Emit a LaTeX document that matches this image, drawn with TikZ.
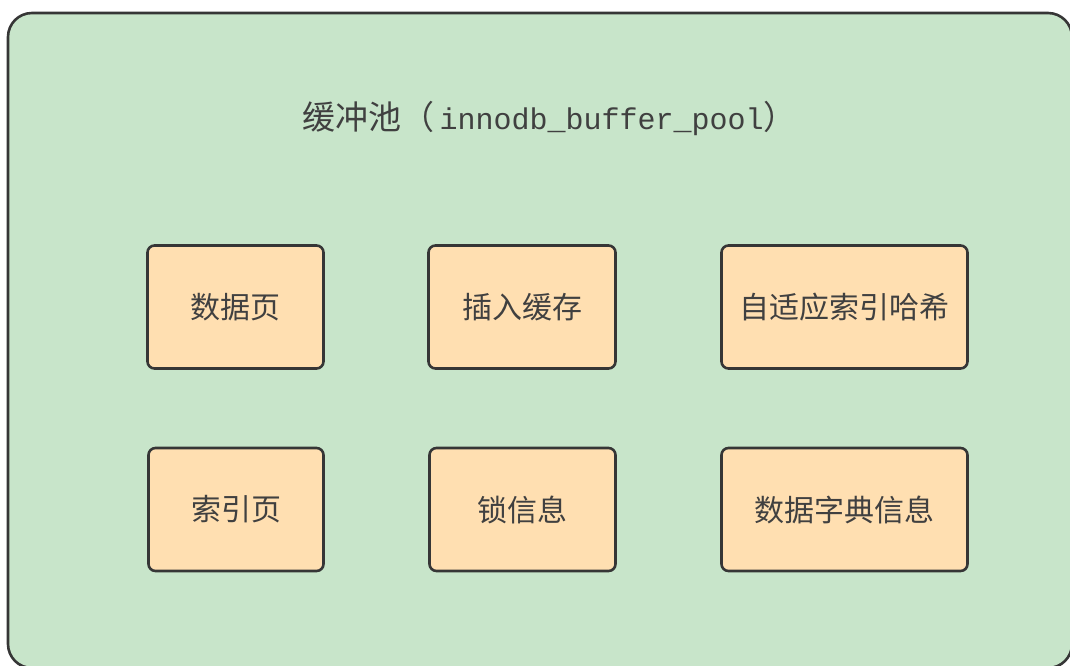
\documentclass[tikz,border=0pt]{standalone}
\usepackage{fontspec}
\setmainfont{Noto Sans CJK SC}
\newfontfamily\poolmono{Liberation Mono}
\definecolor{poolgreen}{RGB}{200,229,202}
\definecolor{boxorange}{RGB}{255,223,177}
\definecolor{edgegray}{RGB}{54,54,54}
\definecolor{textgray}{RGB}{64,64,64}
\tikzset{
	pool/.style={draw=edgegray,line width=2.6pt,fill=poolgreen,rounded corners=24pt},
	part/.style={draw=edgegray,line width=2.6pt,fill=boxorange,rounded corners=7pt,
		minimum height=123pt,inner sep=0pt,text=textgray,font=\fontsize{30}{32}\selectfont}
}
\begin{document}
\begin{tikzpicture}[x=1pt,y=-1pt]
	\useasboundingbox (0,0) rectangle (1070,665);
	\draw[pool] (8,13) rectangle (1072,668);
	\node[anchor=west,inner sep=0pt,text=textgray,font=\fontsize{33}{35}\selectfont] (title) at (302,118) {缓冲池（\,{\poolmono\fontsize{30}{32}\selectfont innodb\_buffer\_pool}）};
	\node[part,minimum width=176pt] (datapage) at (235.5,307) {数据页};
	\node[part,minimum width=187pt] (insertbuf) at (522,307) {插入缓存};
	\node[part,minimum width=246pt] (hashidx) at (844.5,307) {自适应索引哈希};
	\node[part,minimum width=175pt] (indexpage) at (236,509.5) {索引页};
	\node[part,minimum width=186pt] (lockinfo) at (522.5,509.5) {锁信息};
	\node[part,minimum width=246pt] (dictinfo) at (844.5,509.5) {数据字典信息};
\end{tikzpicture}
\end{document}
